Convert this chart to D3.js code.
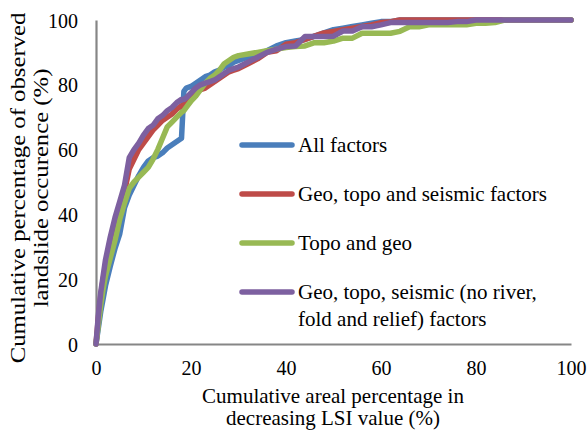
<!DOCTYPE html>
<html><head><meta charset="utf-8">
<script src="https://cdn.jsdelivr.net/npm/d3@7"></script>
<style>body{margin:0;background:#fff}svg{display:block}text{font-family:"Liberation Serif","Times New Roman",serif;fill:#000}</style>
</head><body><svg id="c" width="588" height="440"></svg>
<script>
const xs = [0,0.5,1,1.5,2,3,4,5,6,7,8,9,10,11,12,13,14,15,16,17,18,18.5,19,20,21,22,23,24,25,26,27,28,29,30,32,34,36,38,40,42,44,46,48,50,52,54,56,58,60,62,64,66,68,70,72,74,76,78,80,82,84,86,90,95,100];
const allFactors = [0,5,10,14,18,24,29.5,34,42,46,49,52,54.5,56.5,57.5,58,59,60.5,61.5,62.5,63.5,78,79,79.5,80.5,81.5,82.5,83,84,84.5,85.5,86,87,87.5,88.5,89.5,90.5,92,93,93.5,94,95,96,97,97.5,98,98.5,99,99.5,99.5,100,100,100,100,100,100,100,100,100,100,100,100,100,100,100];
const geoTopoSeismic = [0,8,15,20,24,31,37,42,47,54,57,60,62,64,66,67.5,69,70,71,72.5,73.5,73.8,74.5,76.5,78,78.5,79,80,81,82,83,84,84.5,85,86.5,88,90,90.5,92.5,93,94,95,96,96.5,97,97.5,98,98.5,99.2,99.5,100,100,100,100,100,100,100,100,100,100,100,100,100,100,100];
const topoGeo = [0,6,12,17,21,26.5,32,38.5,43.5,48,50,51.5,53,54.5,57,60,63.5,67,68.5,70,71.5,72,73,75,76.5,78.5,80.5,82,83,84.5,86.5,87.5,88.5,89,89.5,90,90.5,91,91.5,91.8,92,93,93,93.5,94.4,94.4,95.9,95.9,95.9,95.9,96.5,97.9,97.9,98.5,98.5,98.5,98.5,98.5,99,99,99.2,100,100,100,100];
const geoTopoSeismicNoRiver = [0,9,16,21,26,33,39,44,49,57.5,60,62,64.5,66.5,67.5,69.5,70.5,72,73,74.5,75.5,75.5,76,77.5,79,80,80.5,81,81.5,82.5,83.5,84.5,85,85.5,87,88.5,90,91,91.8,92,94.9,94.9,94.9,95,96.6,96.6,97.9,97.9,98.5,99.2,99.2,99.2,99.2,99.2,99.2,99.2,99.5,99.5,100,100,100,100,100,100,100];
const seriesNames = ["All factors","Geo, topo and seismic factors","Topo and geo","Geo, topo, seismic (no river,|fold and relief) factors"];
const seriesColors = ["#4A7EBB","#BE4B48","#98B954","#7D60A0"];
const xTicks = [0,20,40,60,80,100];
const yTicks = [0,20,40,60,80,100];

const svg = d3.select("#c");
const x = d3.scaleLinear().domain([0,100]).range([96,571]);
const y = d3.scaleLinear().domain([0,100]).range([344,20]);

const data = [allFactors, geoTopoSeismic, topoGeo, geoTopoSeismicNoRiver];

const xAxis = svg.append("g").attr("transform","translate(0,344)")
  .call(d3.axisBottom(x).tickValues(xTicks).tickSize(0).tickPadding(17));
const yAxis = svg.append("g").attr("transform","translate(96,0)")
  .call(d3.axisLeft(y).tickValues(yTicks).tickSize(0).tickPadding(18));
[xAxis,yAxis].forEach(a=>{
  a.attr("font-family",null);
  a.select(".domain").attr("stroke","#868686").attr("stroke-width",2.2);
  a.selectAll("text").attr("font-size",20);
});
yAxis.selectAll("text").attr("dy","0.35em");

const line = d3.line().x((d,i)=>x(xs[i])).y(d=>y(d));
data.forEach((s,k)=>{
  svg.append("path").datum(s).attr("d",line).attr("fill","none")
    .attr("stroke",seriesColors[k]).attr("stroke-width",5.5).attr("stroke-linejoin","round").attr("stroke-linecap","round");
});

// legend
const ly = [145,194,243,292];
seriesNames.forEach((n,k)=>{
  svg.append("line").attr("x1",242).attr("x2",292).attr("y1",ly[k]).attr("y2",ly[k])
    .attr("stroke",seriesColors[k]).attr("stroke-width",5.5).attr("stroke-linecap","round");
  const t = svg.append("text").attr("x",298).attr("y",ly[k]).attr("font-size",21);
  n.split("|").forEach((p,j)=>t.append("tspan").attr("x",298).attr("dy",j===0?"0.35em":"1.27em").text(p));
});

// axis titles
const yt = svg.append("text").attr("transform","translate(0,188) rotate(-90) scale(1.15,1)").attr("text-anchor","middle").attr("font-size",21.5);
yt.append("tspan").attr("x",0).attr("y",25).text("Cumulative percentage of observed");
yt.append("tspan").attr("x",0).attr("y",48).text("landslide occurence (%)");
const xt = svg.append("text").attr("text-anchor","middle").attr("font-size",21);
xt.append("tspan").attr("x",333).attr("y",403).text("Cumulative areal percentage in");
xt.append("tspan").attr("x",333).attr("y",425).text("decreasing LSI value (%)");
</script></body></html>
